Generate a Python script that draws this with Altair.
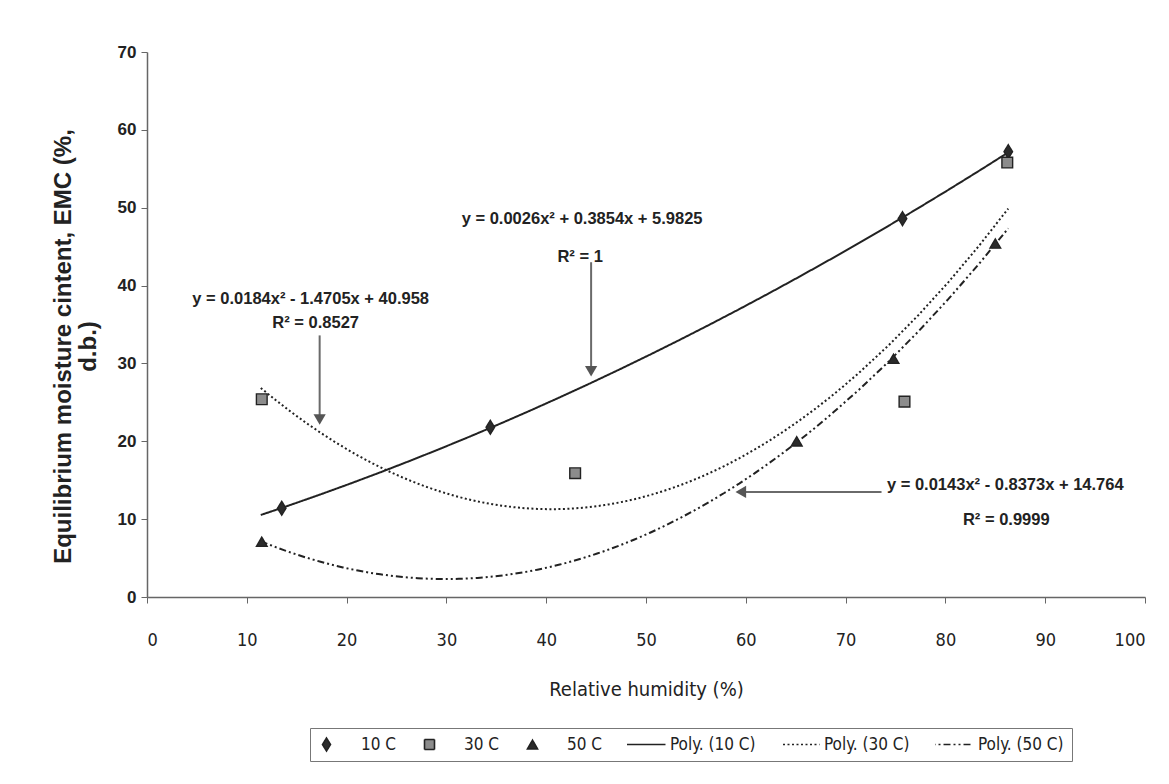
import altair as alt
import pandas as pd

# ---------------- data ----------------
pt_series = ["10 C", "10 C", "10 C", "10 C",
             "30 C", "30 C", "30 C", "30 C",
             "50 C", "50 C", "50 C", "50 C"]
pt_rh = [13.5, 34.4, 75.7, 86.3,
         11.5, 42.9, 75.9, 86.2,
         11.5, 65.1, 74.8, 85.0]
pt_emc = [11.4, 21.8, 48.6, 57.2,
          25.4, 15.9, 25.1, 55.8,
          7.1, 20.0, 30.6, 45.4]

legend_names = ["10 C", "30 C", "50 C", "Poly. (10 C)", "Poly. (30 C)", "Poly. (50 C)"]
DIAMOND = "M0,-1.3L0.8,0L0,1.3L-0.8,0Z"
LINE_SYMBOL = "M-4,0H6"
legend_shapes = [DIAMOND, "square", "triangle-up", LINE_SYMBOL, LINE_SYMBOL, LINE_SYMBOL]
legend_fills = ["#2b2b2b", "#8c8c8c", "#2b2b2b", "#2b2b2b", "#2b2b2b", "#2b2b2b"]
legend_dashes = [[1, 0], [1, 0], [1, 0], [1, 0], [2, 2.5], [7, 3, 2, 3, 2, 3]]

fit_series = ["10 C", "30 C", "50 C"]
fit_dashes = [[1, 0], [2, 2.5], [7, 3, 2, 3, 2, 3]]
fit_extent = [11.4, 86.3]

eq_text = ["y = 0.0184x² - 1.4705x + 40.958", "R² = 0.8527",
           "y = 0.0026x² + 0.3854x + 5.9825", "R² = 1",
           "y = 0.0143x² - 0.8373x + 14.764", "R² = 0.9999"]
eq_x = [16.4, 16.9, 43.6, 43.4, 86.0, 86.1]
eq_y = [38.3, 35.2, 48.6, 43.7, 14.4, 9.9]

arrow_x = [17.3, 44.5, 73.6]
arrow_y = [33.6, 43.0, 13.5]
arrow_x2 = [17.3, 44.5, 59.5]
arrow_y2 = [23.0, 29.2, 13.5]

head_down_x = [17.3, 44.5]
head_down_y = [22.8, 29.0]
head_left_x = [59.5]
head_left_y = [13.5]

x_title = "Relative humidity (%)"
y_title = ["Equilibrium moisture cintent, EMC (%,", "d.b.)"]

# ---------------- tables ----------------
pts = pd.DataFrame({"series": pt_series, "rh": pt_rh, "emc": pt_emc})
eqs = pd.DataFrame({"t": eq_text, "x": eq_x, "y": eq_y})
arrows = pd.DataFrame({"x": arrow_x, "y": arrow_y, "x2": arrow_x2, "y2": arrow_y2})
heads_down = pd.DataFrame({"x": head_down_x, "y": head_down_y})
heads_left = pd.DataFrame({"x": head_left_x, "y": head_left_y})

NARROW = "Liberation Sans Narrow, DejaVu Sans Condensed, Liberation Sans, sans-serif"
BOLD = "Liberation Sans, Arial, sans-serif"

xs = alt.Scale(domain=[0, 100], nice=False)
ys = alt.Scale(domain=[0, 70], nice=False)

x_enc = alt.X("rh:Q", scale=xs, title=x_title,
              axis=alt.Axis(values=list(range(0, 101, 10)), labelFont=NARROW, labelFontSize=18,
                            labelFontWeight="normal", labelPadding=28, titleFont=NARROW,
                            titleFontSize=20, titleFontWeight="normal", titlePadding=30))
y_enc = alt.Y("emc:Q", scale=ys, title=y_title,
              axis=alt.Axis(values=list(range(0, 71, 10)), labelFont=BOLD, labelFontSize=17,
                            labelFontWeight="bold", labelPadding=5, titleFont=BOLD,
                            titleFontSize=24, titleFontWeight="bold", titlePadding=17,
                            titleLineHeight=25, titleY=294, titleLimit=600))

leg = alt.Legend(orient="none", legendX=163, legendY=676, direction="horizontal", title=None,
                 strokeColor="#777", padding=8, labelFont=NARROW, labelFontSize=17,
                 labelColor="#222", columnPadding=25, clipHeight=17, labelOffset=26,
                 symbolSize=100, symbolStrokeWidth=1.6)

line_layers = []
for s, d in zip(fit_series, fit_dashes):
    line_layers.append(
        alt.Chart(pts).transform_filter(alt.datum.series == s).transform_regression(
            "rh", "emc", method="poly", order=2, extent=fit_extent
        ).mark_line(color="#222", strokeWidth=2, strokeDash=d).encode(x=x_enc, y=y_enc)
    )

points = alt.Chart(pts).mark_point(filled=True, opacity=1, stroke="#222", strokeWidth=1.4,
                                   size=115).encode(
    x=x_enc, y=y_enc,
    shape=alt.Shape("series:N", scale=alt.Scale(domain=legend_names, range=legend_shapes), legend=leg),
    color=alt.Color("series:N", scale=alt.Scale(domain=legend_names, range=legend_fills), legend=leg),
    strokeDash=alt.StrokeDash("series:N", scale=alt.Scale(domain=legend_names, range=legend_dashes),
                              legend=leg),
)

eq_layer = alt.Chart(eqs).mark_text(font=BOLD, fontWeight="bold", fontSize=16.5, color="#222").encode(
    x=alt.X("x:Q", scale=xs), y=alt.Y("y:Q", scale=ys), text="t:N")

shafts = alt.Chart(arrows).mark_rule(color="#6a6a6a", strokeWidth=2).encode(
    x=alt.X("x:Q", scale=xs), y=alt.Y("y:Q", scale=ys), x2="x2:Q", y2="y2:Q")

h_down = alt.Chart(heads_down).mark_point(shape="triangle-down", filled=True, color="#555",
                                          size=150, opacity=1).encode(
    x=alt.X("x:Q", scale=xs), y=alt.Y("y:Q", scale=ys))
h_left = alt.Chart(heads_left).mark_point(shape="triangle-left", filled=True, color="#555",
                                          size=150, opacity=1).encode(
    x=alt.X("x:Q", scale=xs), y=alt.Y("y:Q", scale=ys))

chart = alt.layer(*line_layers, shafts, h_down, h_left, points, eq_layer).properties(
    width=998, height=545,
    autosize=alt.AutoSizeParams(type="none"),
    padding={"left": 147, "top": 52, "right": 24, "bottom": 187},
    background="white",
).configure_view(stroke=None).configure_axis(
    grid=False, domainColor="#666", domainWidth=1.5, tickColor="#666", tickSize=6,
    labelColor="#222", titleColor="#222",
)

chart.save("out.html", embed_options={"renderer": "svg", "actions": False})
